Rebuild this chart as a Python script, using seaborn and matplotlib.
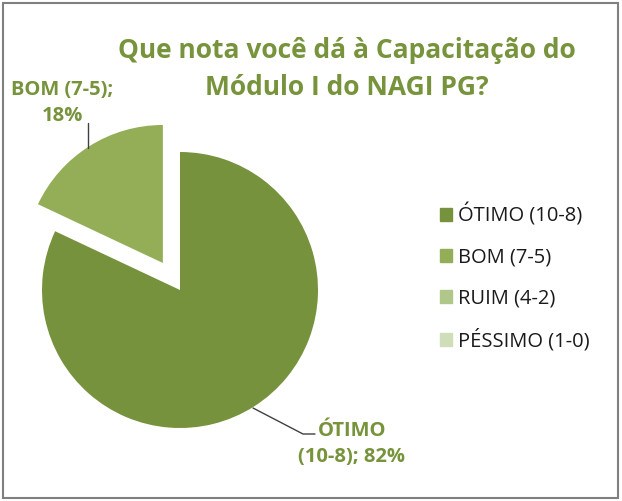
import matplotlib.pyplot as plt
import matplotlib.patches as mpatches
import seaborn as sns

# Data
categories = ['ÓTIMO (10-8)', 'BOM (7-5)', 'RUIM (4-2)', 'PÉSSIMO (1-0)']
values = [82, 18, 0, 0]
colors = ['#77923c', '#93ae57', '#b1c78a', '#d0ddb9']
label_ottimo = 'ÓTIMO\n(10-8); 82%'
label_bom = 'BOM (7-5);\n18%'
title = 'Que nota você dá à Capacitação do\nMódulo I do NAGI PG?'

sns.set_style('white')
plt.rcParams['font.family'] = ['Open Sans', 'DejaVu Sans']

W, H = 622, 501
fig = plt.figure(figsize=(W / 100, H / 100), dpi=100)
ax = fig.add_axes([0, 0, 1, 1])

# Pie in pixel space (y flipped); explode is in data units here
ax.pie(values, colors=colors, startangle=90, counterclock=False,
       explode=[0, 32, 0, 0], center=(180, H - 290), radius=138,
       wedgeprops=dict(linewidth=0))
ax.set_xlim(0, W)
ax.set_ylim(0, H)
ax.axis('off')

green = '#77933c'
ax.text(347, H - 69, title, ha='center', va='center', fontsize=19,
        fontweight='bold', color=green, linespacing=1.5)

# Data labels with leader lines
ax.text(62, H - 103, label_bom, ha='center', va='center', fontsize=14.5,
        fontweight='bold', color=green, linespacing=1.4)
ax.plot([88, 88], [H - 123, H - 148], color='#404040', lw=1)

ax.text(352, H - 444, label_ottimo, ha='center', va='center', fontsize=14.5,
        fontweight='bold', color=green, linespacing=1.45)
ax.plot([253, 303, 315], [H - 408, H - 434, H - 434], color='#404040', lw=1)

# Legend
handles = [mpatches.Patch(color=c, label=l) for c, l in zip(colors, categories)]
fig.legend(handles=handles, loc='center left', frameon=False,
           bbox_to_anchor=(440 / W, 1 - 277.5 / H), fontsize=14.5,
           handlelength=0.6, handleheight=0.6, handletextpad=0.3,
           labelspacing=1.04, borderpad=0, borderaxespad=0,
           labelcolor='#1a1a1a')

# Chart border
fig.patches.append(mpatches.Rectangle((3 / W, 3 / H), 615 / W, 495 / H,
                                      transform=fig.transFigure, fill=False,
                                      edgecolor='#808080', lw=1.5))

fig.savefig('out.png', dpi=100)
